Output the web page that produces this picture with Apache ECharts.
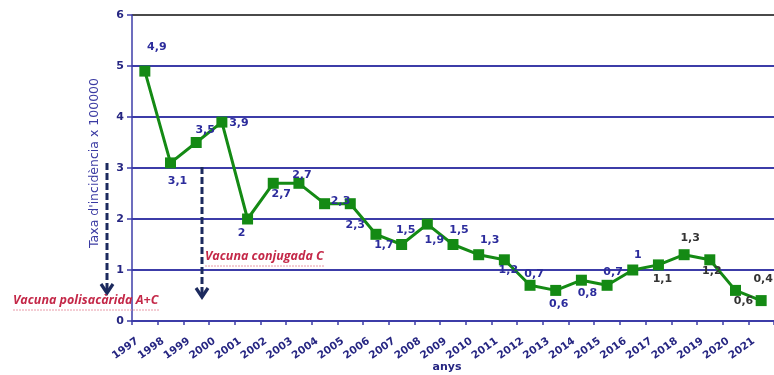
<!DOCTYPE html>
<html>
<head>
<meta charset="utf-8">
<script src="https://cdn.jsdelivr.net/npm/echarts@6/dist/echarts.min.js"></script>
<style>
  html, body { margin: 0; padding: 0; background: #ffffff; }
  #chart { width: 774px; height: 375px; }
</style>
</head>
<body>
<div id="chart"></div>
<script>
// Meningococcal C incidence rate per 100 000, by year
const years = ['1997', '1998', '1999', '2000', '2001', '2002', '2003', '2004', '2005',
  '2006', '2007', '2008', '2009', '2010', '2011', '2012', '2013', '2014', '2015',
  '2016', '2017', '2018', '2019', '2020', '2021'];
const incidence = [4.9, 3.1, 3.5, 3.9, 2, 2.7, 2.7, 2.3, 2.3, 1.7, 1.5, 1.9, 1.5,
  1.3, 1.2, 0.7, 0.6, 0.8, 0.7, 1, 1.1, 1.3, 1.2, 0.6, 0.4];
const yTicks = [0, 1, 2, 3, 4, 5, 6];

// where each value label sits relative to its point, in px
const labelOffsets = [[12, -24], [7, 18], [9, -12], [17, 1], [-6, 14], [8, 11], [3, -8],
  [16, -3], [5, 21], [8, 11], [4, -14], [7, 16], [6, -14], [11, -15], [4, 10], [4, -11],
  [3, 14], [6, 13], [6, -13], [5, -15], [4, 14], [6, -17], [2, 11], [8, 11], [2, -21]];
const darkLabelsFrom = '2017';

const NAVY = '#262682';
const LABEL_BLUE = '#2c2c9c';
const GRID_BLUE = '#3c3ca8';
const GREEN = '#148a14';
const ANNOT_RED = '#c42848';
const ARROW = '#1c2a5e';
const FONT = 'DejaVu Sans';

const chart = echarts.init(document.getElementById('chart'), null, { renderer: 'canvas' });

const seriesData = incidence.map((v, i) => ({
  value: v,
  label: {
    offset: labelOffsets[i],
    color: years[i] >= darkLabelsFrom ? '#333333' : LABEL_BLUE
  }
}));

// dashed arrow pointing down, for the vaccine markers
function arrow(x, y0, y1) {
  return [
    {
      type: 'line',
      shape: { x1: x, y1: y0, x2: x, y2: y1 - 3 },
      style: { stroke: ARROW, lineWidth: 3, lineDash: [7, 3] },
      z: 10
    },
    {
      type: 'polyline',
      shape: { points: [[x - 6, y1 - 9], [x, y1], [x + 6, y1 - 9]] },
      style: { stroke: ARROW, lineWidth: 3.2, fill: null },
      z: 10
    }
  ];
}

function annotation(text, x, y, w) {
  return [
    {
      type: 'text',
      left: x, top: y,
      style: {
        text: text,
        fill: ANNOT_RED,
        font: 'italic bold 12.5px "Open Sans"'
      },
      z: 10
    },
    {
      type: 'line',
      shape: { x1: x, y1: y + 16, x2: x + w, y2: y + 16 },
      style: { stroke: '#e89aa8', lineWidth: 1, lineDash: [2, 1] },
      z: 9
    }
  ];
}

const option = {
  backgroundColor: '#ffffff',
  animation: false,
  grid: { left: 132, right: 0, top: 15, bottom: 54, containLabel: false, outerBoundsMode: 'none' },
  xAxis: {
    type: 'category',
    data: years,
    boundaryGap: true,
    name: 'anys',
    nameLocation: 'middle',
    nameGap: 41,
    nameMoveOverlap: false,
    nameTextStyle: { color: NAVY, fontFamily: FONT, fontWeight: 'bold', fontSize: 11, padding: [0, 12, 0, 0] },
    axisLine: { lineStyle: { color: GRID_BLUE, width: 2 } },
    axisTick: { show: true, length: 4, lineStyle: { color: GRID_BLUE, width: 1.5 } },
    axisLabel: {
      rotate: 35,
      interval: 0,
      margin: 14,
      padding: [0, 9, 0, 0],
      color: NAVY,
      fontFamily: FONT,
      fontWeight: 'bold',
      fontSize: 10.5
    },
    splitLine: { show: false }
  },
  yAxis: {
    type: 'value',
    min: yTicks[0],
    max: yTicks[yTicks.length - 1],
    interval: yTicks[1] - yTicks[0],
    name: "Taxa d'incidència x 100000",
    nameLocation: 'middle',
    nameRotate: 90,
    nameGap: 31,
    nameMoveOverlap: false,
    nameTextStyle: { color: '#3a3aa2', fontFamily: FONT, fontSize: 12.5, padding: [0, 0, 0, 10] },
    axisLine: { show: true, lineStyle: { color: GRID_BLUE, width: 1.5 } },
    axisTick: { show: true, length: 5, lineStyle: { color: GRID_BLUE, width: 1.5 } },
    axisLabel: {
      margin: 8,
      color: NAVY,
      fontFamily: FONT,
      fontWeight: 'bold',
      fontSize: 11
    },
    splitLine: {
      show: true,
      lineStyle: {
        color: [GRID_BLUE, GRID_BLUE, GRID_BLUE, GRID_BLUE, GRID_BLUE, GRID_BLUE, '#4a4a4a'],
        width: 2
      }
    }
  },
  series: [{
    type: 'line',
    data: seriesData,
    symbol: 'rect',
    symbolSize: 11,
    lineStyle: { color: GREEN, width: 3 },
    itemStyle: { color: GREEN },
    label: {
      show: true,
      position: 'inside',
      fontFamily: FONT,
      fontWeight: 'bold',
      fontSize: 11,
      formatter: p => String(p.value).replace('.', ',')
    },
    z: 5
  }],
  graphic: [
    ...arrow(107, 163, 293),
    ...arrow(202, 167, 297),
    ...annotation('Vacuna polisacàrida A+C', 13, 294, 146),
    ...annotation('Vacuna conjugada C', 205, 250, 120)
  ]
};

chart.setOption(option);
</script>
</body>
</html>
